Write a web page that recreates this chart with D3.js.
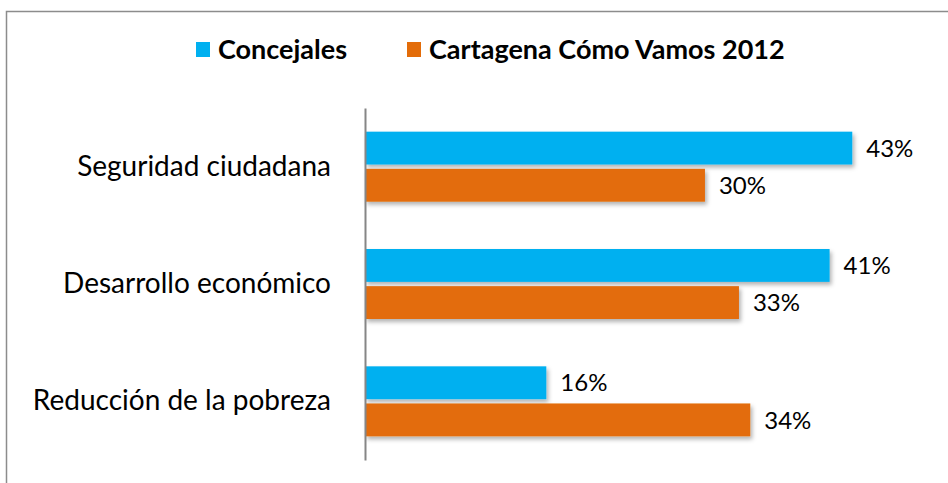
<!DOCTYPE html>
<html lang="es">
<head>
  <meta charset="UTF-8">
  <script src="https://cdn.jsdelivr.net/npm/d3@7/dist/d3.min.js"></script>
  <title>Prioridades</title>
  <style>
    body { margin: 0; background: #fff; }
    text { font-family: Lato, "Open Sans", sans-serif; fill: #000; }
  </style>
</head>
<body>
  <script>
    const categories = ["Seguridad ciudadana", "Desarrollo económico", "Reducción de la pobreza"];
    const seriesNames = ["Concejales", "Cartagena Cómo Vamos 2012"];
    const concejales = [0.43, 0.41, 0.16];
    const ccv2012 = [0.30, 0.33, 0.34];
    const colors = ["#00B0F0", "#E36C09"];

    const width = 948, height = 483;
    const svg = d3.select("body").append("svg")
      .attr("width", width).attr("height", height);

    // soft shadow under bars, like the office chart
    const defs = svg.append("defs");
    const f = defs.append("filter").attr("id", "shadow")
      .attr("x", "-5%").attr("y", "-20%").attr("width", "115%").attr("height", "160%");
    f.append("feDropShadow").attr("dx", 2).attr("dy", 3).attr("stdDeviation", 2)
      .attr("flood-color", "#000").attr("flood-opacity", 0.3);

    // frame (runs off right and bottom edges)
    svg.append("rect")
      .attr("x", 6.5).attr("y", 11.5).attr("width", 960).attr("height", 500)
      .attr("fill", "none").attr("stroke", "#8c8c8c").attr("stroke-width", 1.5);

    const x = d3.scaleLinear().domain([0, 0.5]).range([365, 931.6]);
    const y = d3.scaleBand().domain(categories).range([108, 460]);
    const sub = d3.scaleBand().domain(seriesNames).range([-35, 35]).paddingInner(0.115);

    const data = categories.map((c, i) => ({ cat: c, vals: [concejales[i], ccv2012[i]] }));

    const groups = svg.append("g").selectAll("g")
      .data(data).join("g")
      .attr("transform", d => `translate(0,${y(d.cat) + y.bandwidth() / 2})`);

    const bars = groups.selectAll("g.bar")
      .data(d => d.vals.map((v, j) => ({ v, s: seriesNames[j], j })))
      .join("g").attr("class", "bar");

    bars.append("rect")
      .attr("x", x(0))
      .attr("y", d => sub(d.s))
      .attr("width", d => x(d.v) - x(0))
      .attr("height", sub.bandwidth())
      .attr("fill", d => colors[d.j])
      .attr("filter", "url(#shadow)");

    bars.append("text")
      .attr("x", d => x(d.v) + 14)
      .attr("y", d => sub(d.s) + sub.bandwidth() / 2)
      .attr("dy", "0.36em")
      .style("font-size", "24px")
      .text(d => d3.format(".0%")(d.v));

    // category axis
    const yAxis = d3.axisLeft(y).tickSize(0).tickPadding(34);
    const ax = svg.append("g").attr("transform", `translate(${x(0)},0)`).call(yAxis);
    ax.select(".domain").attr("stroke", "#868686").attr("stroke-width", 2);
    ax.selectAll("text").style("font-size", "28px")
      .style("font-family", "Lato, 'Open Sans', sans-serif").attr("fill", "#000");

    // legend
    const legend = svg.append("g");
    const lx = [196, 407];
    seriesNames.forEach((s, i) => {
      legend.append("rect").attr("x", lx[i]).attr("y", 42).attr("width", 14).attr("height", 15)
        .attr("fill", colors[i]);
      legend.append("text").attr("x", lx[i] + 22).attr("y", 59)
        .style("font-size", "27px").style("font-weight", "bold").text(s);
    });
  </script>
</body>
</html>
